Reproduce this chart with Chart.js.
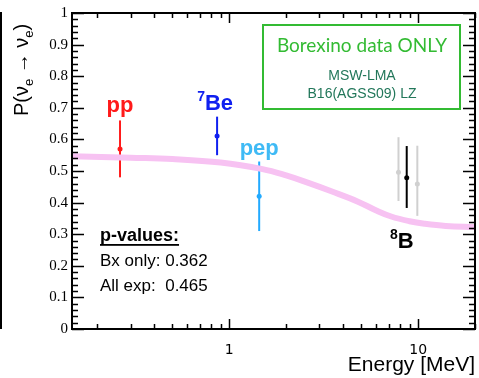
<!DOCTYPE html>
<html lang="en">
<head>
    <meta charset="UTF-8">
    <title>Borexino survival probability</title>
    <script src="https://cdn.jsdelivr.net/npm/chart.js"></script>
    <style>
        body { margin: 0; background: #fff; }
        #wrap { width: 479px; height: 378px; }
    </style>
</head>
<body>
    <div id="wrap"><canvas id="chart" width="479" height="378"></canvas></div>

    <script>
        // MSW-LMA band (B16 AGSS09 LZ)
        const bandEnergy = [0.147, 0.3, 0.5, 0.9, 1.5, 2, 2.6, 3.5, 4.8, 6, 7.2, 9, 10.8, 14, 20];
        const bandProb = [0.547, 0.542, 0.538, 0.527, 0.506, 0.486, 0.463, 0.435, 0.403, 0.375, 0.356, 0.341, 0.333, 0.326, 0.323];

        // Borexino measurements
        const sources = ['pp', '7Be', 'pep', '8B'];
        const energies = [0.264, 0.862, 1.44, 8.7];
        const probs = [0.57, 0.611, 0.42, 0.479];
        const errLow = [0.48, 0.55, 0.31, 0.383];
        const errHigh = [0.66, 0.672, 0.53, 0.579];
        const colors = ['#ff1a1a', '#1020f0', '#22aaff', '#000000'];

        // other 8B points (gray)
        const grayEnergies = [7.87, 9.9];
        const grayProbs = [0.496, 0.459];
        const grayLow = [0.405, 0.358];
        const grayHigh = [0.607, 0.58];

        const yTickLabels = ['0', '0.1', '0.2', '0.3', '0.4', '0.5', '0.6', '0.7', '0.8', '0.9', '1'];
        const xTickLabels = ['1', '10'];
        const xMinorTicks = [0.2, 0.3, 0.4, 0.5, 0.6, 0.7, 0.8, 0.9, 2, 3, 4, 5, 6, 7, 8, 9, 20];

        const pointsData = energies.map((e, i) => ({ x: e, y: probs[i] }));
        const grayData = grayEnergies.map((e, i) => ({ x: e, y: grayProbs[i] }));
        const bandData = bandEnergy.map((e, i) => ({ x: e, y: bandProb[i] }));

        const framePlugin = {
            id: 'frame',
            beforeDatasetsDraw(chart) {
                const { ctx, scales: { x, y } } = chart;
                // gray error bars behind
                ctx.save();
                ctx.strokeStyle = '#d0d0d0';
                ctx.lineWidth = 2;
                grayEnergies.forEach((e, i) => {
                    const px = x.getPixelForValue(e);
                    ctx.beginPath();
                    ctx.moveTo(px, y.getPixelForValue(grayLow[i]));
                    ctx.lineTo(px, y.getPixelForValue(grayHigh[i]));
                    ctx.stroke();
                });
                energies.forEach((e, i) => {
                    const px = x.getPixelForValue(e);
                    ctx.strokeStyle = colors[i];
                    ctx.beginPath();
                    ctx.moveTo(px, y.getPixelForValue(errLow[i]));
                    ctx.lineTo(px, y.getPixelForValue(errHigh[i]));
                    ctx.stroke();
                });
                ctx.restore();
            },
            afterDraw(chart) {
                const { ctx, chartArea: a, scales: { x, y } } = chart;
                ctx.save();
                ctx.strokeStyle = '#000';
                ctx.lineWidth = 2;
                ctx.strokeRect(a.left, a.top, a.right - a.left, a.bottom - a.top);

                // y ticks, both sides, pointing inward
                ctx.lineWidth = 1.5;
                for (let k = 0; k <= 50; k++) {
                    const py = Math.round(y.getPixelForValue(k / 50)) + 0.5;
                    const len = k % 5 === 0 ? 12 : 6;
                    ctx.beginPath();
                    ctx.moveTo(a.left, py); ctx.lineTo(a.left + len, py);
                    ctx.moveTo(a.right, py); ctx.lineTo(a.right - len, py);
                    ctx.stroke();
                }
                // x ticks, top and bottom
                const drawX = (v, len) => {
                    const px = Math.round(x.getPixelForValue(v)) + 0.5;
                    ctx.beginPath();
                    ctx.moveTo(px, a.bottom); ctx.lineTo(px, a.bottom - len);
                    ctx.moveTo(px, a.top); ctx.lineTo(px, a.top + len);
                    ctx.stroke();
                };
                xMinorTicks.forEach(v => drawX(v, 5));
                xTickLabels.forEach(l => drawX(parseFloat(l), 10));

                // y tick labels
                ctx.fillStyle = '#000';
                ctx.font = '15px "Liberation Serif"';
                ctx.textAlign = 'right';
                ctx.textBaseline = 'middle';
                yTickLabels.forEach(l => ctx.fillText(l, a.left - 4, y.getPixelForValue(parseFloat(l))));
                // x tick labels
                ctx.font = '14px "DejaVu Sans"';
                ctx.textAlign = 'center';
                ctx.textBaseline = 'top';
                xTickLabels.forEach(l => ctx.fillText(l, x.getPixelForValue(parseFloat(l)), a.bottom + 14));

                // x title
                ctx.font = '21px "Liberation Sans"';
                ctx.textAlign = 'right';
                ctx.textBaseline = 'alphabetic';
                ctx.fillText('Energy [MeV]', a.right, 371);

                // y title (rotated)
                ctx.save();
                ctx.translate(28, 116);
                ctx.rotate(-Math.PI / 2);
                ctx.textAlign = 'left';
                let cx = 0;
                const seg = (t, f, dy) => { ctx.font = f; ctx.fillText(t, cx, dy); cx += ctx.measureText(t).width; };
                seg('P(\u03bd', '20px "Liberation Sans"', 0);
                seg('e', '13px "Liberation Sans"', 5);
                seg(' \u2192 \u03bd', '20px "Liberation Sans"', 0);
                seg('e', '13px "Liberation Sans"', 5);
                seg(')', '20px "Liberation Sans"', 0);
                ctx.restore();

                // source labels
                const label = (sup, txt, color, cxp, base) => {
                    ctx.fillStyle = color;
                    ctx.font = 'bold 22px "Liberation Sans"';
                    const w = ctx.measureText(txt).width;
                    ctx.font = 'bold 14px "Liberation Sans"';
                    const ws = sup ? ctx.measureText(sup).width : 0;
                    let left = cxp - (w + ws) / 2;
                    ctx.textAlign = 'left';
                    if (sup) ctx.fillText(sup, left, base - 9);
                    ctx.font = 'bold 22px "Liberation Sans"';
                    ctx.fillText(txt, left + ws, base);
                };
                label('', 'pp', colors[0], x.getPixelForValue(energies[0]), 112);
                label('7', 'Be', colors[1], x.getPixelForValue(energies[1]) - 2, 110);
                label('', 'pep', '#3fbaf5', x.getPixelForValue(energies[2]), 155);
                label('8', 'B', colors[3], x.getPixelForValue(energies[3]) - 5, 248);

                // p-values
                ctx.fillStyle = '#000';
                ctx.textAlign = 'left';
                ctx.font = 'bold 18px "Liberation Sans"';
                ctx.fillText('p-values:', 100, 241);
                const pw = ctx.measureText('p-values:').width;
                ctx.fillRect(100, 244, pw, 1.8);
                ctx.font = '17px "Liberation Sans"';
                ctx.fillText('Bx only: 0.362', 100, 266);
                ctx.fillText('All exp:  0.465', 100, 291);

                // legend box
                ctx.strokeStyle = '#33bb33';
                ctx.lineWidth = 2;
                ctx.strokeRect(263, 25, 197, 84);
                ctx.textAlign = 'center';
                ctx.fillStyle = '#33bb33';
                ctx.font = '19px Lato';
                ctx.fillText('Borexino data ONLY', 362, 52);
                ctx.fillStyle = '#22775a';
                ctx.font = '14px "Liberation Sans"';
                ctx.fillText('MSW-LMA', 362, 80);
                ctx.fillText('B16(AGSS09) LZ', 362, 98);

                // left edge line
                ctx.fillStyle = '#000';
                ctx.fillRect(0, 12, 2, 317);
                ctx.restore();
            }
        };

        new Chart(document.getElementById('chart'), {
            type: 'scatter',
            data: {
                datasets: [
                    {
                        data: bandData,
                        showLine: true,
                        borderColor: '#f7c2f2',
                        borderWidth: 6,
                        pointRadius: 0,
                        tension: 0.4,
                        order: 3
                    },
                    {
                        data: grayData,
                        backgroundColor: '#d0d0d0',
                        borderWidth: 0,
                        pointRadius: 2.5,
                        order: 2
                    },
                    {
                        data: pointsData,
                        backgroundColor: colors,
                        borderWidth: 0,
                        pointRadius: 2.5,
                        order: 1
                    }
                ]
            },
            options: {
                responsive: false,
                animation: false,
                layout: { padding: { left: 72, top: 13, right: 2, bottom: 49 } },
                plugins: { legend: { display: false }, tooltip: { enabled: false } },
                scales: {
                    x: { type: 'logarithmic', min: 0.147, max: 20, display: false },
                    y: { type: 'linear', min: 0, max: 1, display: false }
                }
            },
            plugins: [framePlugin]
        });
    </script>
</body>
</html>
